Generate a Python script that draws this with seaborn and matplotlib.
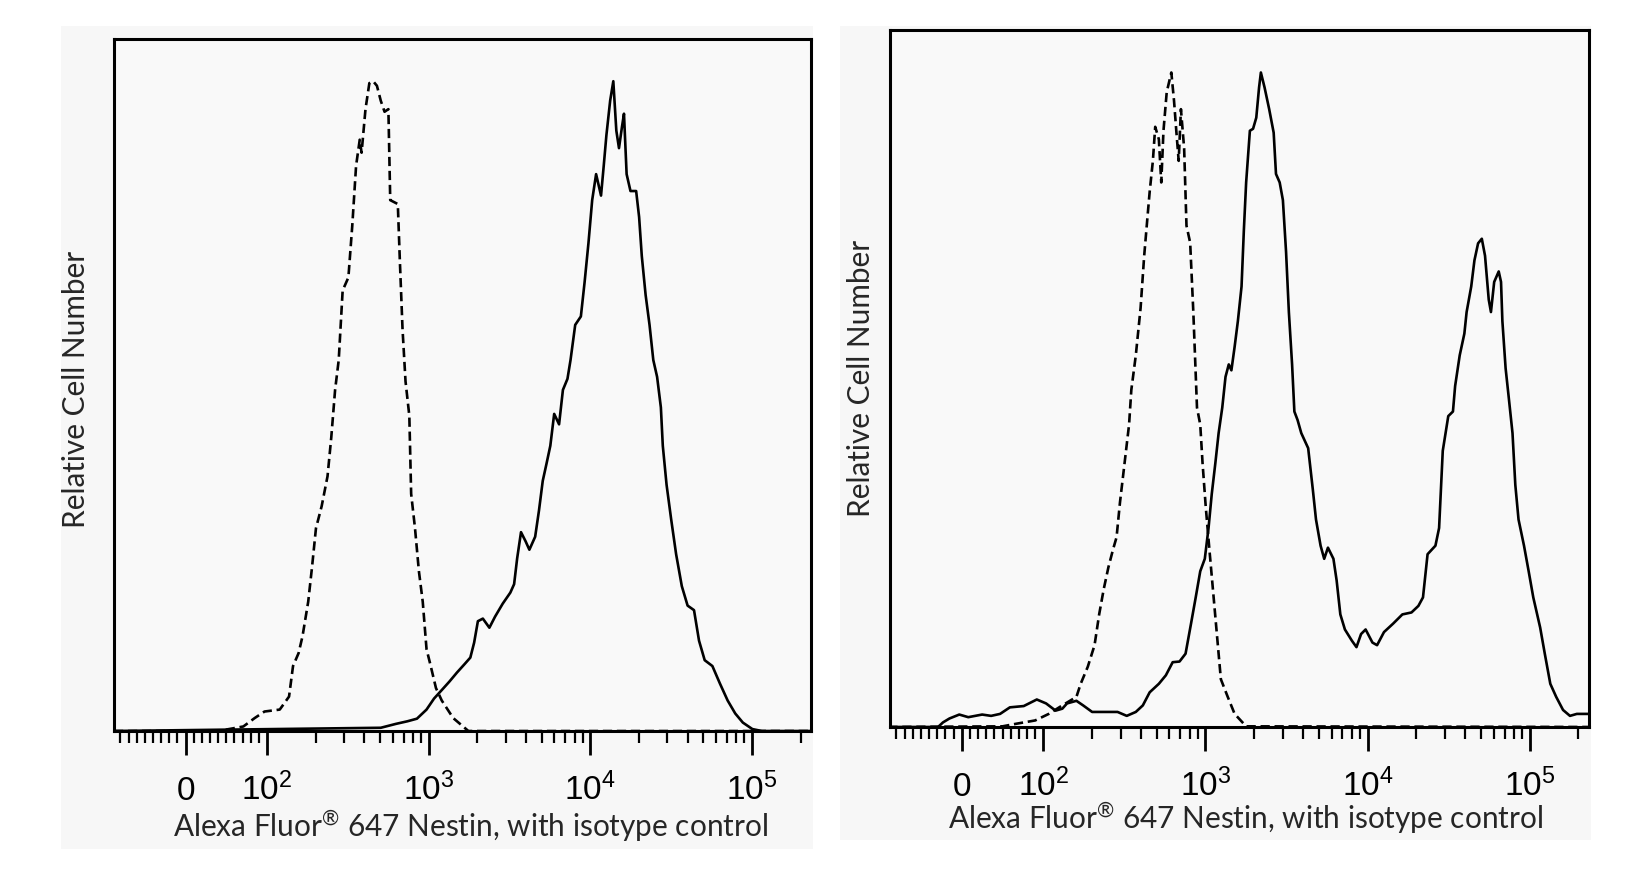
import matplotlib
matplotlib.use("Agg")
import matplotlib.pyplot as plt
import seaborn as sns
from matplotlib import font_manager
from matplotlib.patches import Rectangle

# ---- data (x = fluorescence, y = % of peak) ----
left_iso_x = [-88, 40, 71, 85, 97, 120, 137, 145, 157, 166, 180, 190, 201, 218, 237,
              250, 264, 278, 294, 319, 337, 356, 375, 385, 407, 430, 454, 479, 506, 534,
              564, 579, 645, 664, 690, 720, 760, 780, 824, 871, 920, 971, 1024, 1111, 1206,
              1419, 1763, 232000]
left_iso_y = [0, 0, 0.7, 2.0, 3.0, 3.3, 5.3, 10.0, 12.0, 14.6, 19.9, 25.2, 31.2, 34.6, 39.2,
              45.2, 52.5, 57.1, 67.8, 69.8, 77.7, 87.0, 91.0, 89.0, 95.7, 99.7, 100, 99.3, 97.0, 95.3,
              95.7, 81.7, 81.1, 72.4, 61.8, 53.8, 48.5, 36.5, 31.2, 24.6, 19.9, 12.6, 10.3, 6.6, 4.7,
              2.0, 0, 0]

left_nes_x = [-88, 506, 628, 740, 847, 971, 1081, 1206, 1344, 1498, 1670, 1812, 1913, 2018, 2166,
              2377, 2577, 2874, 3204, 3381, 3532, 3730, 3981, 4202, 4563, 4816, 5084, 5370, 5663, 5983,
              6415, 6776, 7230, 7552, 8072, 8750, 9230, 9750, 10280, 10870, 11660, 12120, 12590, 13280,
              13890, 14500, 15060, 15720, 16170, 16790, 17740, 19230, 20060, 20840, 22010, 23270, 24550,
              25920, 27350, 28110, 29660, 31660, 33990, 36850, 40020, 43850, 47100, 51050, 56970, 63450,
              70790, 78890, 87900, 100700, 115300, 232000]
left_nes_y = [0, 0.5, 1.1, 1.5, 1.9, 3.3, 5.0, 6.3, 7.6, 9.0, 10.3, 11.3, 13.6, 16.9, 17.3,
              15.9, 17.6, 19.6, 21.3, 22.6, 26.6, 30.6, 29.2, 27.9, 29.9, 33.9, 38.5, 41.2, 43.9, 48.8,
              47.2, 52.5, 54.2, 57.1, 62.5, 63.8, 69.1, 75.1, 81.7, 85.7, 82.4, 87.0, 91.7, 97.0,
              100, 92.4, 89.7, 93.0, 95.0, 85.7, 83.1, 83.1, 79.1, 73.1, 67.1, 62.5, 57.1,
              54.5, 49.8, 43.9, 37.9, 32.6, 27.2, 22.3, 19.3, 18.6, 13.9, 10.9, 10.0, 7.3,
              4.7, 2.7, 1.3, 0.3, 0, 0]

right_iso_x = [-90, 50, 67, 90, 108, 131, 160, 170, 188, 207, 221, 236, 252, 269, 283,
               297, 317, 338, 349, 372, 398, 419, 439, 453, 474, 490, 516, 534, 551, 577,
               616, 640, 661, 684, 706, 739, 764, 805, 842, 887, 929, 960, 1004, 1058, 1130,
               1245, 1373, 1514, 1783, 232000]
right_iso_y = [0, 0.1, 0.5, 1.0, 2.0, 3.3, 4.6, 6.6, 9.2, 12.5, 17.2, 21.1, 24.4, 27.1, 29.0,
               34.3, 40.3, 46.2, 51.5, 56.8, 64.0, 72.0, 77.9, 81.8, 86.5, 91.7, 89.8, 83.2, 91.1, 97.0,
               100, 95.7, 91.1, 86.5, 94.4, 88.4, 76.6, 74.0, 63.4, 48.8, 46.2, 40.3, 33.7, 27.1, 19.1,
               7.3, 4.6, 2.0, 0.1, 0]

right_nes_x = [-90, -29, -23, -15, -3, 8, 25, 36, 47, 59,
               76, 92, 104, 119, 131, 140, 160, 176, 200, 236,
               287, 327, 372, 411, 453, 516, 570, 628, 692, 754,
               815, 871, 929, 991, 1045, 1094, 1151, 1206, 1270, 1330,
               1393, 1446, 1514, 1585, 1670, 1726, 1783, 1880, 1967, 2059,
               2142, 2198, 2317, 2473, 2636, 2724, 2871, 3005, 3143, 3271,
               3424, 3537, 3702, 3902, 4303, 4596, 4809, 5133, 5403, 5698,
               6160, 6446, 6795, 7250, 8000, 8545, 9120, 9730, 10720, 11450,
               12630, 14390, 16400, 18670, 20590, 21980, 23460, 26230, 27630, 29110,
               31480, 33640, 34700, 37040, 39560, 40850, 43610, 45650, 48080, 50690,
               53060, 55930, 57710, 60430, 64450, 66590, 67900, 71080, 74420, 78390,
               81580, 85400, 92300, 98600, 105300, 116100, 124000, 134100, 145800, 160700,
               177300, 195500, 215800, 232000]
right_nes_y = [0, 0, 0.7, 1.3, 1.9, 1.5, 1.9, 1.7, 2.0, 3.0,
               3.2, 4.2, 3.6, 2.5, 2.8, 3.6, 4.0, 3.3, 2.3, 2.3,
               2.3, 1.7, 2.3, 3.3, 5.3, 6.6, 7.9, 9.9, 10.0, 11.2,
               15.8, 19.8, 23.8, 25.7, 30.4, 35.6, 40.3, 44.9, 48.8, 53.5,
               55.4, 54.5, 58.1, 62.0, 67.3, 75.9, 83.2, 91.1, 91.4, 93.1,
               97.7, 100, 97.7, 94.4, 90.8, 84.5, 83.2, 80.5, 72.6, 63.4,
               55.4, 48.2, 46.9, 44.9, 42.6, 36.3, 31.7, 27.7, 25.7, 27.4,
               25.7, 22.4, 17.2, 14.9, 13.2, 12.2, 14.2, 14.9, 12.9, 12.5,
               14.5, 15.8, 17.2, 17.5, 18.5, 19.8, 26.4, 27.7, 30.4, 42.2,
               47.5, 48.2, 52.1, 56.8, 60.1, 63.4, 67.3, 71.3, 73.9, 74.6,
               72.0, 65.3, 63.4, 68.0, 69.6, 68.0, 62.0, 54.8, 50.2, 44.9,
               37.0, 31.7, 27.7, 23.8, 19.8, 15.2, 11.2, 6.6, 4.6, 2.6,
               1.7, 2.0, 2.0, 2.0]

tick_values = [0, 1e2, 1e3, 1e4, 1e5]
tick_labels = ["$0$", "$10^2$", "$10^3$", "$10^4$", "$10^5$"]
minor_values = ([-v for v in range(10, 90, 10)] + list(range(10, 100, 10))
                + [m * 10 ** e for e in (2, 3, 4) for m in range(2, 10)] + [2e5])
x_label = "Alexa Fluor$^{\\mathregular{®}}$ 647 Nestin, with isotype control"
y_label = "Relative Cell Number"

sns.set_theme(style="white")
installed = {f.name for f in font_manager.fontManager.ttflist}
tick_font = "Liberation Sans Narrow" if "Liberation Sans Narrow" in installed else "Liberation Sans"
plt.rcParams["font.family"] = ["Lato", "DejaVu Sans"]
plt.rcParams["mathtext.fontset"] = "custom"
plt.rcParams["mathtext.rm"] = tick_font
plt.rcParams["mathtext.it"] = tick_font
plt.rcParams["mathtext.bf"] = tick_font
plt.rcParams["mathtext.default"] = "rm"

fig = plt.figure(figsize=(16.52, 8.76), dpi=100)
fig.patch.set_facecolor("white")
# grey card behind each panel
fig.add_artist(Rectangle((0.0369, 0.0308), 0.4552, 0.9395, transform=fig.transFigure,
                         facecolor="#f7f7f7", edgecolor="none", zorder=-5))
fig.add_artist(Rectangle((0.5085, 0.0411), 0.4546, 0.929, transform=fig.transFigure,
                         facecolor="#f7f7f7", edgecolor="none", zorder=-5))

ax1 = fig.add_axes([0.0690, 0.1655, 0.4219, 0.790])
ax2 = fig.add_axes([0.5387, 0.1701, 0.4231, 0.7957])


def draw_panel(ax, iso_x, iso_y, nes_x, nes_y):
    ax.set_facecolor("#f9f9f9")
    sns.lineplot(x=nes_x, y=nes_y, ax=ax, color="black", lw=1.9, estimator=None, sort=False)
    sns.lineplot(x=iso_x, y=iso_y, ax=ax, color="black", lw=1.9, estimator=None, sort=False)
    ax.lines[-1].set_linestyle((0, (3.5, 1.8)))
    ax.set_xscale("symlog", base=10, linthresh=100, linscale=0.453)
    ax.set_xlim(-88, 2.32e5)
    ax.set_ylim(0, 106.5)
    ax.set_xticks(tick_values, tick_labels)
    ax.set_xticks(minor_values, minor=True)
    ax.set_yticks([])
    ax.tick_params(axis="x", which="major", direction="out", bottom=True, length=17, width=2.0,
                   pad=33, labelsize=24, colors="black")
    ax.tick_params(axis="x", which="minor", direction="out", bottom=True, length=8.5, width=1.6,
                   colors="black")
    plt.setp(ax.get_xticklabels(), va="baseline", fontfamily=tick_font)
    for s in ax.spines.values():
        s.set_visible(True)
        s.set_color("black")
        s.set_linewidth(2.2)
    ax.set_xlabel(x_label, fontsize=20, va="baseline")
    ax.set_ylabel(y_label, fontsize=20, va="baseline")


draw_panel(ax1, left_iso_x, left_iso_y, left_nes_x, left_nes_y)
draw_panel(ax2, right_iso_x, right_iso_y, right_nes_x, right_nes_y)

ax1.xaxis.set_label_coords(0.512, -0.153)
ax1.yaxis.set_label_coords(-0.0416, 0.494)
ax2.xaxis.set_label_coords(0.509, -0.146)
ax2.yaxis.set_label_coords(-0.0286, 0.5007)

# scale the label font so the x label spans the same width as in the source
fig.canvas.draw()
w = ax1.xaxis.label.get_window_extent().width
size = 20 * 595 / w
for ax in (ax1, ax2):
    ax.xaxis.label.set_fontsize(size)
    ax.yaxis.label.set_fontsize(size)

fig.savefig("out.png", dpi=100)
